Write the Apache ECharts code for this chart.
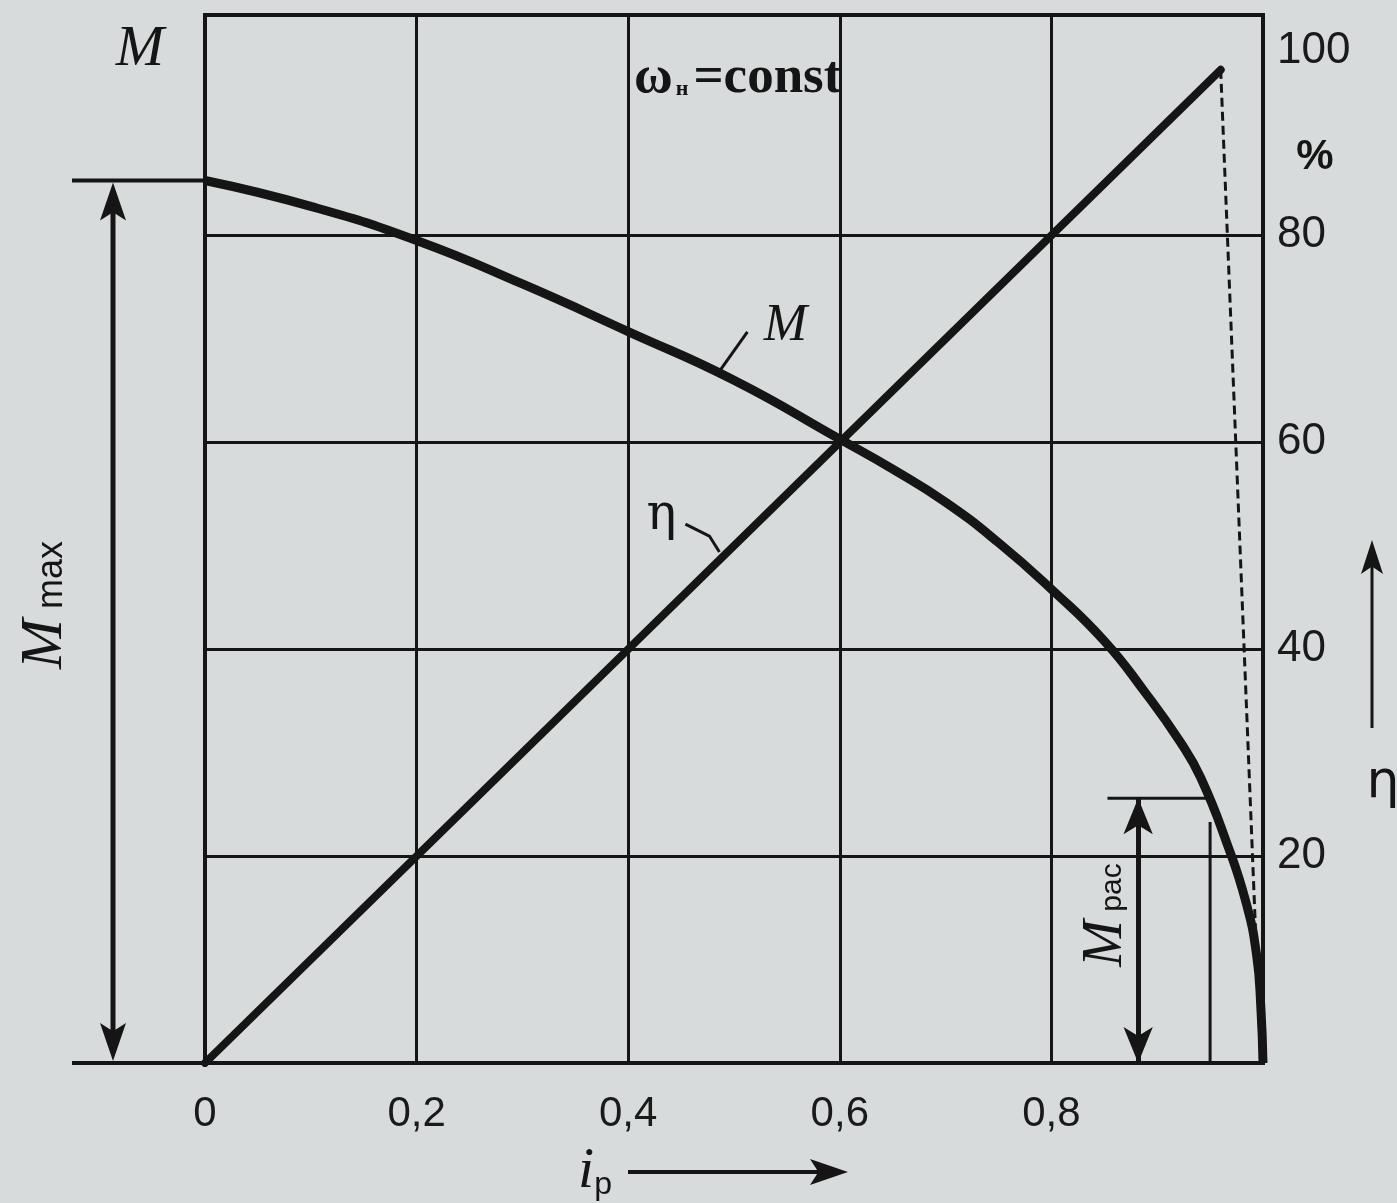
<!DOCTYPE html>
<html>
<head>
<meta charset="utf-8">
<script src="https://cdn.jsdelivr.net/npm/echarts@6/dist/echarts.min.js"></script>
<style>
html,body{margin:0;padding:0;background:#d8dbdc;}
#c{width:1397px;height:1203px;}
</style>
</head>
<body>
<div id="c"></div>
<script>
// ---- data ----
const xTickValues = [0, 0.2, 0.4, 0.6, 0.8, 1.0];
const xTickLabels = ['0', '0,2', '0,4', '0,6', '0,8', ''];
const yTickValues = [0, 20, 40, 60, 80, 100];
const yTickLabels = ['', '20', '40', '60', '80', '100'];
const hGridValues = [20, 40, 60, 80];

// torque curve M (drawn on the same 0..100 scale)
const ipM = [0, 0.1, 0.2, 0.3, 0.4, 0.5, 0.6, 0.65, 0.7, 0.75, 0.8, 0.85, 0.888, 0.922, 0.941, 0.966, 0.984, 0.994, 0.998, 1.0];
const torqueM = [85.3, 82.8, 79.5, 75.3, 70.7, 66, 60.3, 57.4, 54.2, 50.3, 45.8, 40.8, 35.9, 31, 27.6, 21.2, 15.5, 10.4, 5.3, 0];

// efficiency eta, %
const ipEta = [0, 0.96];
const etaPct = [0, 96];

// dashed drop line from eta peak
const ipDash = [0.96, 0.998];
const dashPct = [96, 0];

// M_pac annotation
const mPacValue = 25.6;
const mPacTopIp = [0.853, 0.949];
const mPacArrowIp = 0.882;
const mPacDropIp = 0.95;
const mPacDropTop = 23.3;
const mMaxValue = torqueM[0];

const pairs = (xs, ys) => xs.map((x, i) => [x, ys[i]]);

const chart = echarts.init(document.getElementById('c'), null, {renderer: 'canvas'});
const INK = '#151515';

const option = {
  backgroundColor: '#d8dbdc',
  animation: false,
  grid: {
    left: 205, right: 134, top: 15, bottom: 140,
    show: true, borderColor: INK, borderWidth: 4, backgroundColor: 'transparent'
  },
  xAxis: {
    type: 'value', min: 0, max: 1, interval: 0.2,
    axisLine: {show: true, lineStyle: {color: INK, width: 4}},
    axisTick: {show: false},
    splitLine: {show: true, lineStyle: {color: INK, width: 3}},
    axisLabel: {
      color: '#1a1a1a', fontFamily: 'Liberation Sans', fontSize: 42, margin: 30,
      formatter: v => {
        const k = xTickValues.findIndex(t => Math.abs(t - v) < 1e-6);
        return k >= 0 ? xTickLabels[k] : '';
      }
    }
  },
  yAxis: {
    type: 'value', position: 'right', min: 0, max: 101.3, interval: 20,
    axisLine: {show: false},
    axisTick: {show: false},
    splitLine: {show: false},
    axisLabel: {
      color: '#1a1a1a', fontFamily: 'Liberation Sans', fontSize: 44, margin: 14,
      formatter: v => {
        const k = yTickValues.findIndex(t => Math.abs(t - v) < 1e-6);
        if (k < 0) return '';
        if (yTickValues[k] === 100) return '{low|' + yTickLabels[k] + '}';
        return yTickLabels[k];
      },
      rich: {
        low: {fontFamily: 'Liberation Sans', fontSize: 44, color: '#1a1a1a', padding: [44, 0, 0, 0]}
      }
    }
  },
  series: [
    {
      name: 'grid-h', type: 'line', data: [], silent: true,
      markLine: {
        silent: true, symbol: ['none', 'none'], label: {show: false},
        lineStyle: {color: INK, width: 3, type: 'solid'},
        data: hGridValues.map(v => ({yAxis: v}))
      }
    },
    {
      name: 'M', type: 'line', data: pairs(ipM, torqueM), smooth: 0.5,
      showSymbol: false, lineStyle: {color: INK, width: 9}, z: 5
    },
    {
      name: 'eta', type: 'line', data: pairs(ipEta, etaPct),
      showSymbol: false, lineStyle: {color: INK, width: 8, cap: 'round'}, z: 5
    },
    {
      name: 'dash', type: 'line', data: pairs(ipDash, dashPct),
      showSymbol: false, lineStyle: {color: INK, width: 3, type: [9, 5]}, z: 4
    },
    {
      name: 'mpacTop', type: 'line', data: pairs(mPacTopIp, [mPacValue, mPacValue]),
      showSymbol: false, lineStyle: {color: INK, width: 3}, z: 4
    },
    {
      name: 'mpacDrop', type: 'line', data: pairs([mPacDropIp, mPacDropIp], [mPacDropTop, 0]),
      showSymbol: false, lineStyle: {color: INK, width: 3}, z: 4
    },
    {
      name: 'mpacArrow', type: 'line', data: [], silent: true,
      markLine: {
        silent: true, symbol: ['arrow', 'arrow'], symbolSize: [22, 36], label: {show: false},
        lineStyle: {color: INK, width: 5, type: 'solid'},
        data: [[{coord: [mPacArrowIp, mPacValue]}, {coord: [mPacArrowIp, 0]}]]
      }
    }
  ]
};
chart.setOption(option);

// ---- annotations placed from the chart's own scales ----
const P = (x, y) => chart.convertToPixel({xAxisIndex: 0, yAxisIndex: 0}, [x, y]);
const pTop = P(0, mMaxValue);
const pBot = P(0, 0);
const lineEl = (x1, y1, x2, y2, w) => ({type: 'line', shape: {x1, y1, x2, y2}, style: {stroke: INK, lineWidth: w}, silent: true});
const arrowHead = (tx, ty, dir, len, half) => {
  let pts;
  if (dir === 'up') pts = [[tx, ty], [tx - half, ty + len], [tx, ty + len * 0.78], [tx + half, ty + len]];
  else if (dir === 'down') pts = [[tx, ty], [tx - half, ty - len], [tx, ty - len * 0.78], [tx + half, ty - len]];
  else pts = [[tx, ty], [tx - len, ty - half], [tx - len * 0.78, ty], [tx - len, ty + half]];
  return {type: 'polygon', shape: {points: pts}, style: {fill: INK}, silent: true};
};

const axX = 113;
const pM = P(0.49, 66.6);
const pEta = P(0.49, 49);

const graphics = [
  // M_max dimension
  lineEl(72, pTop[1], pTop[0], pTop[1], 4),
  lineEl(72, pBot[1], pBot[0], pBot[1], 4),
  lineEl(axX, pTop[1] + 20, axX, pBot[1] - 20, 5),
  arrowHead(axX, pTop[1] + 2, 'up', 38, 13),
  arrowHead(axX, pBot[1] - 2, 'down', 38, 13),
  {type: 'text', x: 45, y: 605, rotation: Math.PI / 2, silent: true,
   style: {text: '{m|M}{s| max}', align: 'center', verticalAlign: 'middle',
     rich: {m: {fontFamily: 'Liberation Serif', fontStyle: 'italic', fontSize: 60, fill: INK},
            s: {fontFamily: 'Liberation Sans', fontSize: 36, fill: INK, padding: [14, 0, 0, 0]}}}},
  // M axis name
  {type: 'text', x: 140, y: 50, silent: true,
   style: {text: 'M', font: 'italic 58px "Liberation Serif"', fill: INK, align: 'center', verticalAlign: 'middle'}},
  // omega = const
  {type: 'text', x: 634, y: 78, silent: true,
   style: {text: '{w|ω}{n|н}{w|=const}', align: 'left', verticalAlign: 'middle',
     rich: {w: {fontFamily: 'Liberation Serif', fontSize: 53, fontWeight: 'bold', fill: INK},
            n: {fontFamily: 'Liberation Serif', fontSize: 22, fontWeight: 'bold', fill: INK, padding: [22, 5, 0, 3]}}}},
  // % sign
  {type: 'text', x: 1315, y: 157, silent: true,
   style: {text: '%', font: 'bold 42px "Liberation Sans"', fill: INK, align: 'center', verticalAlign: 'middle'}},
  // eta arrow on right
  lineEl(1372, 560, 1372, 728, 3),
  arrowHead(1372, 540, 'up', 34, 11),
  {type: 'text', x: 1383, y: 783, silent: true,
   style: {text: 'η', font: '52px "DejaVu Sans"', fill: INK, align: 'center', verticalAlign: 'middle'}},
  // i_p axis title with arrow
  {type: 'text', x: 595, y: 1172, silent: true,
   style: {text: '{i|i}{p|р}', align: 'center', verticalAlign: 'middle',
     rich: {i: {fontFamily: 'Liberation Serif', fontStyle: 'italic', fontSize: 58, fill: INK},
            p: {fontFamily: 'Liberation Sans', fontSize: 32, fill: INK, padding: [26, 0, 0, 0]}}}},
  lineEl(628, 1172, 825, 1172, 4),
  arrowHead(848, 1172, 'right', 38, 13),
  // curve labels with leader lines
  lineEl(pM[0] - 3, pM[1] - 4, pM[0] + 24, pM[1] - 42, 3),
  {type: 'text', x: pM[0] + 62, y: pM[1] - 48, silent: true,
   style: {text: 'M', font: 'italic 52px "Liberation Serif"', fill: INK, align: 'center', verticalAlign: 'middle'}},
  {type: 'polyline', shape: {points: [[pEta[0] - 38, pEta[1] - 32], [pEta[0] - 14, pEta[1] - 20], [pEta[0] - 4, pEta[1] - 4]]},
   style: {stroke: INK, lineWidth: 3, fill: null}, silent: true},
  {type: 'text', x: pEta[0] - 62, y: pEta[1] - 40, silent: true,
   style: {text: 'η', font: '50px "DejaVu Serif"', fill: INK, align: 'center', verticalAlign: 'middle'}},
  // M_pac label
  {type: 'text', x: 1106, y: 915, rotation: Math.PI / 2, silent: true,
   style: {text: '{m|M}{s| рас}', align: 'center', verticalAlign: 'middle',
     rich: {m: {fontFamily: 'Liberation Serif', fontStyle: 'italic', fontSize: 56, fill: INK},
            s: {fontFamily: 'Liberation Sans', fontSize: 30, fill: INK, padding: [14, 0, 0, 0]}}}}
];
chart.setOption({graphic: graphics});
</script>
</body>
</html>
